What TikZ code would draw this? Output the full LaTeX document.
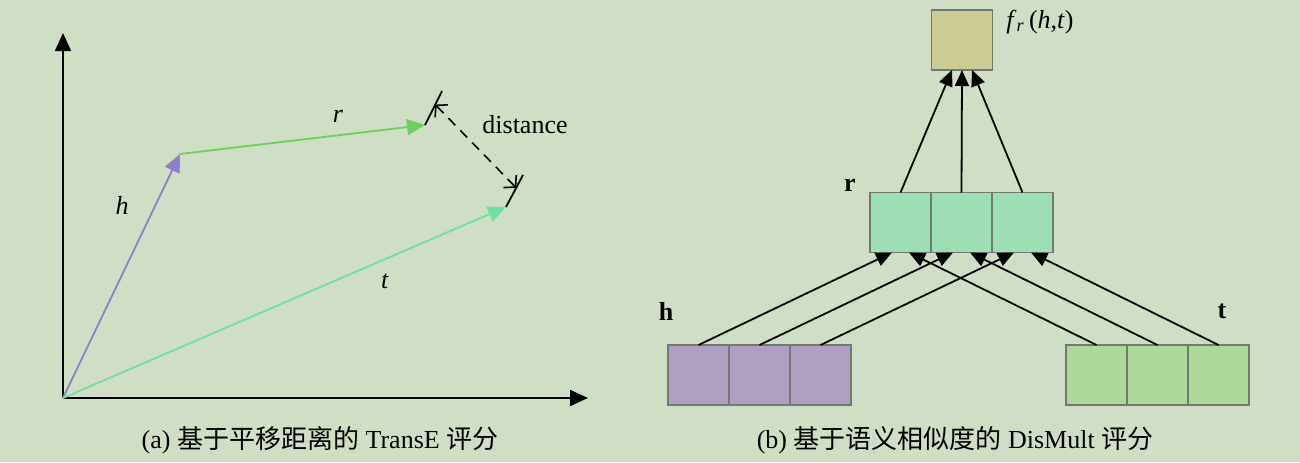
\documentclass[tikz,border=0pt]{standalone}
\usepackage{fontspec}
\setmainfont{Liberation Serif}
\newfontfamily\cjk{Noto Sans CJK SC}
\usepackage{tikz}
\usetikzlibrary{arrows.meta,positioning,calc}
\definecolor{bg}{HTML}{CFDEC4}
\definecolor{hvec}{HTML}{8C80CA}
\definecolor{rvec}{HTML}{6ECF5C}
\definecolor{tvec}{HTML}{6FE0A2}
\definecolor{fcell}{HTML}{CBCC94}
\definecolor{rcell}{HTML}{9DDEB4}
\definecolor{hcell}{HTML}{AF9FC3}
\definecolor{tcell}{HTML}{AED89A}
\definecolor{cellline}{HTML}{707A70}

\begin{document}
\begin{tikzpicture}[
  x=0.5pt,y=-0.5pt,
  font=\fontsize{13}{15}\selectfont,
  cell/.style={draw=cellline,line width=0.6pt,inner sep=0pt,outer sep=0pt,minimum width=30.5pt,minimum height=30pt},
  axis/.style={-{Triangle[length=9pt,width=8pt]},line width=0.9pt},
  vec/.style={-{Triangle[length=9pt,width=8pt]},line width=0.9pt},
  arr/.style={-{Triangle[length=8pt,width=7pt]},line width=0.9pt},
  gap/.style={{Straight Barb[length=4pt,width=9pt]}-{Straight Barb[length=4pt,width=9pt]},dashed,dash pattern=on 5pt off 3.5pt,line width=0.8pt}
]
\fill[bg] (0,0) rectangle (1300,462);
\useasboundingbox (0,0) rectangle (1300,462);

% (a) TransE
\coordinate (O) at (63,398);
\coordinate (ytop) at (63,33);
\coordinate (xend) at (588,398);
\coordinate (H) at (180,154);
\coordinate (R) at (425,125);
\coordinate (T) at (506,207);
\coordinate (R2) at (442,91);
\coordinate (T2) at (523,175);
\draw[axis] (O) -- (ytop);
\draw[axis] (O) -- (xend);
\draw[vec,hvec] (O) -- (H);
\draw[vec,rvec] (H) -- (R);
\draw[vec,tvec] (O) -- (T);
\draw[line width=0.9pt] (R) -- (R2);
\draw[line width=0.9pt] (T) -- (T2);
\draw[gap] ($(R)!0.6!(R2)$) -- ($(T)!0.6!(T2)$);
\node (hlab) at (122,205) {\textit{h}};
\node (rlab) at (338,116) {\textit{r}};
\node (tlab) at (385,281) {\textit{t}};
\node (dist) at (525,125) {distance};

% (b) DisMult
\node[cell,fill=fcell] (f) at (962,40) {};
\node (flab) at (1040,22) {\textit{f}\textsubscript{\textit{r}}\,(\textit{h},\textit{t})};
\node[cell,fill=rcell] (r2) at (961.5,222.5) {};
\node[cell,fill=rcell,left=0pt of r2] (r1) {};
\node[cell,fill=rcell,right=0pt of r2] (r3) {};
\node[cell,fill=hcell] (h2) at (759.5,375) {};
\node[cell,fill=hcell,left=0pt of h2] (h1) {};
\node[cell,fill=hcell,right=0pt of h2] (h3) {};
\node[cell,fill=tcell] (t2) at (1157.5,375) {};
\node[cell,fill=tcell,left=0pt of t2] (t1) {};
\node[cell,fill=tcell,right=0pt of t2] (t3) {};
\node (rname) at (850,185) {\textbf{r}};
\node (hname) at (666,311) {\textbf{h}};
\node (tname) at (1222,311) {\textbf{t}};

\foreach \i in {1,2,3} {
  \draw[arr] (h\i.north) -- ($(r\i.south)+(-8.5,0)$);
  \draw[arr] (t\i.north) -- ($(r\i.south)+(8.5,0)$);
}
\draw[arr] (r1.north) -- ($(f.south)+(-10,0)$);
\draw[arr] (r2.north) -- (f.south);
\draw[arr] (r3.north) -- ($(f.south)+(10,0)$);

% captions
\node (capa) at (320,440) {(a) {\cjk 基于平移距离的} TransE {\cjk 评分}};
\node (capb) at (955,440) {(b) {\cjk 基于语义相似度的} DisMult {\cjk 评分}};
\end{tikzpicture}
\end{document}
